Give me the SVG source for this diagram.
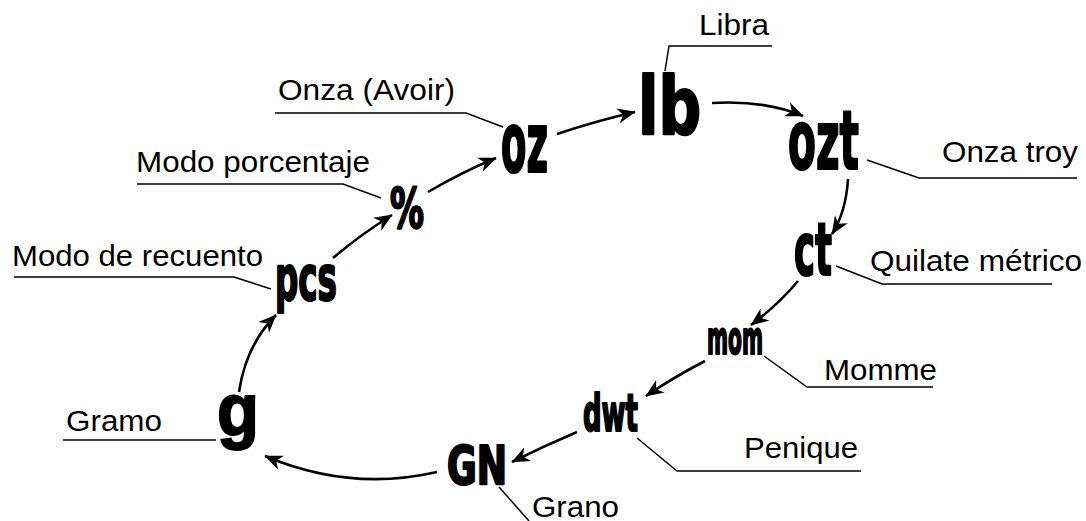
<svg xmlns="http://www.w3.org/2000/svg" width="1086" height="521" viewBox="0 0 1086 521">
  <defs>
    <style>
      .unit { font-family: "DejaVu Sans", "Liberation Sans", sans-serif; font-weight: bold; font-stretch: condensed; fill: #000; stroke: #000; stroke-width: 2.2; stroke-linejoin: round; }
      .gram { font-family: "Liberation Sans", Arial, sans-serif; font-weight: bold; fill: #000; stroke: #000; stroke-width: 2; }
      .name { font-family: "Liberation Sans", Arial, sans-serif; font-size: 29.5px; fill: #000; }
      .leader { fill: none; stroke: #000; stroke-width: 1.5; }
      .flow { fill: none; stroke: #000; stroke-width: 2.6; marker-end: url(#head); }
    </style>
    <marker id="head" viewBox="0 0 12 10" refX="11.5" refY="5" markerWidth="7" markerHeight="6" orient="auto" markerUnits="strokeWidth">
      <path d="M0,0 L12,5 L0,10 L3.5,5 Z" fill="#000"/>
    </marker>
  </defs>
  <rect width="1086" height="521" fill="#fff"/>

  <!-- cycle of weighing units -->
  <g id="connectors">
    <path class="flow" d="M239,392 Q246,345 276,315"/>
    <path class="flow" d="M333,258 Q360,235 392,215"/>
    <path class="flow" d="M428,192 Q462,172 496,158"/>
    <path class="flow" d="M557,134 Q596,121 635,112"/>
    <path class="flow" d="M712,103 Q765,100 803,116"/>
    <path class="flow" d="M848,179 Q846,212 832,234"/>
    <path class="flow" d="M798,281 Q778,305 751,325"/>
    <path class="flow" d="M705,361 Q674,377 646,396"/>
    <path class="flow" d="M577,432 Q544,446 512,462"/>
    <path class="flow" d="M437,472 Q350,492 265,456"/>
  </g>

  <g id="node-lb">
    <text class="unit" x="638" y="134" font-size="80" textLength="63" lengthAdjust="spacingAndGlyphs">lb</text>
    <polyline class="leader" points="665,71 669,46 772,46"/>
    <text class="name" x="699" y="35" textLength="70" lengthAdjust="spacingAndGlyphs">Libra</text>
  </g>

  <g id="node-oz">
    <text class="unit" x="501" y="172" font-size="84" textLength="47" lengthAdjust="spacingAndGlyphs">oz</text>
    <polyline class="leader" points="275,113 466,113 503,127"/>
    <text class="name" x="278" y="100" textLength="177" lengthAdjust="spacingAndGlyphs">Onza (Avoir)</text>
  </g>

  <g id="node-percent">
    <text class="unit" x="390" y="227" font-size="56" textLength="34" lengthAdjust="spacingAndGlyphs">%</text>
    <polyline class="leader" points="137,184 343,184 381,198"/>
    <text class="name" x="136" y="172" textLength="234" lengthAdjust="spacingAndGlyphs">Modo porcentaje</text>
  </g>

  <g id="node-pcs">
    <text class="unit" x="275" y="300" font-size="62" textLength="62" lengthAdjust="spacingAndGlyphs">pcs</text>
    <polyline class="leader" points="14,277 234,277 271,289"/>
    <text class="name" x="12" y="266" textLength="251" lengthAdjust="spacingAndGlyphs">Modo de recuento</text>
  </g>

  <g id="node-g">
    <text class="gram" x="217" y="435" font-size="74" textLength="42" lengthAdjust="spacingAndGlyphs">g</text>
    <polyline class="leader" points="63,440 216,440"/>
    <text class="name" x="66" y="431" textLength="96" lengthAdjust="spacingAndGlyphs">Gramo</text>
  </g>

  <g id="node-gn">
    <text class="unit" x="447" y="484" font-size="53" textLength="60" lengthAdjust="spacingAndGlyphs">GN</text>
    <polyline class="leader" points="499,487 529,521"/>
    <text class="name" x="532" y="517" textLength="87" lengthAdjust="spacingAndGlyphs">Grano</text>
  </g>

  <g id="node-dwt">
    <text class="unit" x="583" y="431" font-size="52" textLength="55" lengthAdjust="spacingAndGlyphs">dwt</text>
    <polyline class="leader" points="637,438 677,471 861,471"/>
    <text class="name" x="744" y="458" textLength="114" lengthAdjust="spacingAndGlyphs">Penique</text>
  </g>

  <g id="node-mom">
    <text class="unit" x="707" y="354" font-size="46" textLength="56" lengthAdjust="spacingAndGlyphs">mom</text>
    <polyline class="leader" points="764,356 807,387 933,387"/>
    <text class="name" x="824" y="380" textLength="113" lengthAdjust="spacingAndGlyphs">Momme</text>
  </g>

  <g id="node-ct">
    <text class="unit" x="794" y="275" font-size="73" textLength="38" lengthAdjust="spacingAndGlyphs">ct</text>
    <polyline class="leader" points="836,266 882,284 1052,284"/>
    <text class="name" x="870" y="271" textLength="212" lengthAdjust="spacingAndGlyphs">Quilate métrico</text>
  </g>

  <g id="node-ozt">
    <text class="unit" x="788" y="169" font-size="82" textLength="71" lengthAdjust="spacingAndGlyphs">ozt</text>
    <polyline class="leader" points="867,160 919,178 1077,178"/>
    <text class="name" x="942" y="162" textLength="136" lengthAdjust="spacingAndGlyphs">Onza troy</text>
  </g>
</svg>
